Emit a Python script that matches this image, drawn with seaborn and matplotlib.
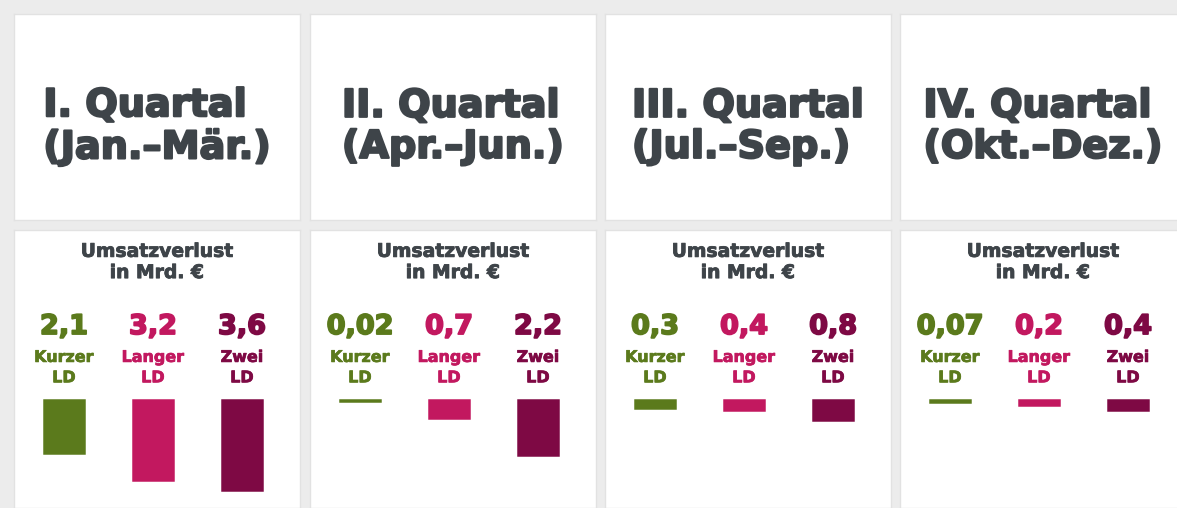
import numpy as np
import pandas as pd
import seaborn as sns
from matplotlib import pyplot as plt
import matplotlib.patheffects as pe

sns.set_theme(style="white")
plt.rcParams["font.family"] = ["DejaVu Sans"]

# chart data
quarters = [
    "I. Quartal\n(Jan.–Mär.)",
    "II. Quartal\n(Apr.–Jun.)",
    "III. Quartal\n(Jul.–Sep.)",
    "IV. Quartal\n(Okt.–Dez.)",
]
scenarios = ["Kurzer\nLD", "Langer\nLD", "Zwei\nLD"]
kurzer = [2.1, 0.02, 0.3, 0.07]
langer = [3.2, 0.7, 0.4, 0.2]
zwei = [3.6, 2.2, 0.8, 0.4]
subtitle = "Umsatzverlust\nin Mrd. €"

colors = ["#5b7a1c", "#c2185f", "#7e0944"]
title_color = "#3e4449"
bg = "#ececec"

W, H = 1177, 508
fig = plt.figure(figsize=(W / 100, H / 100), dpi=100, facecolor=bg)

card_left = [14, 310, 605, 900]
card_w = 286
px_per_unit = 25


def heavy(color, lw):
    return [pe.withStroke(linewidth=lw, foreground=color)]


for i, q in enumerate(quarters):
    x0 = card_left[i] / W
    w = card_w / W

    # header card
    top = fig.add_axes([x0, (H - 220) / H, w, 206 / H])
    top.set_facecolor("white")
    top.set_xticks([])
    top.set_yticks([])
    for s in top.spines.values():
        s.set_color("#e2e2e2")
        s.set_linewidth(1)
    top.text(
        0.5, 0.45, q, transform=top.transAxes, ha="center", va="center",
        multialignment="left", fontsize=27.5, fontweight="bold",
        color=title_color, linespacing=1.18,
        path_effects=heavy(title_color, 1.6),
    )

    # lower card with bars
    ax = fig.add_axes([x0, 0, w, 278 / H])
    ax.set_facecolor("white")
    df = pd.DataFrame({
        "scenario": scenarios,
        "value": [kurzer[i], langer[i], zwei[i]],
    })
    sns.barplot(
        data=df, x="scenario", y="value", hue="scenario", palette=colors,
        legend=False, ax=ax, width=0.45, linewidth=1.8, saturation=1,
    )
    for patch, c in zip(ax.patches, colors):
        patch.set_edgecolor(c)
    ax.set_xlim(-50 / 89, (card_w - 50) / 89)
    ax.set_ylim(108 / px_per_unit, -170 / px_per_unit)
    ax.set_xticks([])
    ax.set_yticks([])
    ax.set_xlabel("")
    ax.set_ylabel("")
    for s in ax.spines.values():
        s.set_color("#e2e2e2")
        s.set_linewidth(1)

    ax.text(
        0.5, 0.885, subtitle, transform=ax.transAxes, ha="center", va="center",
        fontsize=13.5, fontweight="bold", color=title_color, linespacing=1.15,
        path_effects=heavy(title_color, 0.6),
    )
    tr = ax.get_xaxis_transform()
    for j, (lab, val) in enumerate(zip(df["scenario"], df["value"])):
        ax.text(
            j, 0.651, f"{val:g}".replace(".", ","), transform=tr,
            ha="center", va="center", fontsize=19.5, fontweight="bold",
            color=colors[j], path_effects=heavy(colors[j], 1.3),
        )
        ax.text(
            j, 0.505, lab, transform=tr, ha="center", va="center",
            fontsize=11.5, fontweight="bold", color=colors[j],
            linespacing=1.45, path_effects=heavy(colors[j], 0.5),
        )

fig.savefig("out.png", dpi=100, facecolor=bg)
